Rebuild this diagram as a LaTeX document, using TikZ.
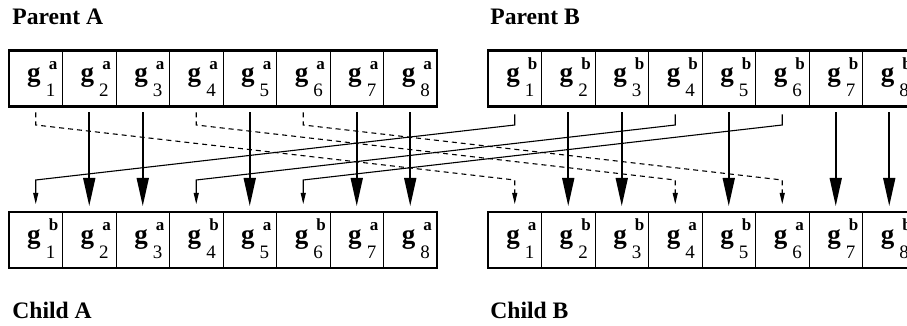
\documentclass[tikz,border=0pt]{standalone}
\usepackage{fontspec}
\setmainfont{Liberation Serif}
\usepackage{tikz}
\usetikzlibrary{arrows.meta,positioning,fit}

% one gene: g with allele (sup) and locus (sub)
\newcommand{\allele}[2]{\hspace*{5.5pt}\smash{\raisebox{-1.75pt}{%
  \fontsize{13.5}{13.5}\selectfont\bfseries g\kern2.5pt%
  \rlap{\kern1.6pt\raisebox{6.3pt}{\fontsize{8.5}{9}\selectfont\bfseries #1}}%
  \raisebox{-7.5pt}{\fontsize{9.5}{10}\selectfont\mdseries #2}}}}

\begin{document}
\begin{tikzpicture}[
  x=0.5pt, y=-0.5pt,
  every node/.style={font=\fontsize{11.5}{13}\selectfont},
  cell/.style={draw, line width=0.5pt, minimum width=26.75pt,
    minimum height=28pt, inner sep=0pt, outer sep=0pt},
  chrom/.style={draw, line width=1.15pt, inner sep=0pt},
  title/.style={anchor=west, inner sep=0pt,
    font=\fontsize{11.8}{13}\selectfont\bfseries},
  keep/.style={line width=0.8pt, -{Triangle[length=14pt,width=6pt]}},
  cross/.style={line width=0.55pt, -{Triangle[length=5.5pt,width=2.5pt]}},
  crossdash/.style={cross, dash pattern=on 2.5pt off 2pt},
]
\useasboundingbox (0,0) rectangle (907,326);

% Titles
\node[title] (lpa) at (12,16.5) {Parent A};
\node[title] (lpb) at (490,16.5) {Parent B};
\node[title] (lca) at (12,310) {Child A};
\node[title] (lcb) at (490,310) {Child B};

% Parent A
\node[cell] (pa1) at (35.75,78.5) {\allele{a}{1}};
\node[cell, right=0pt of pa1] (pa2) {\allele{a}{2}};
\node[cell, right=0pt of pa2] (pa3) {\allele{a}{3}};
\node[cell, right=0pt of pa3] (pa4) {\allele{a}{4}};
\node[cell, right=0pt of pa4] (pa5) {\allele{a}{5}};
\node[cell, right=0pt of pa5] (pa6) {\allele{a}{6}};
\node[cell, right=0pt of pa6] (pa7) {\allele{a}{7}};
\node[cell, right=0pt of pa7] (pa8) {\allele{a}{8}};
\node[chrom, fit=(pa1)(pa8)] (parA) {};

% Parent B
\node[cell] (pb1) at (514.75,78.5) {\allele{b}{1}};
\node[cell, right=0pt of pb1] (pb2) {\allele{b}{2}};
\node[cell, right=0pt of pb2] (pb3) {\allele{b}{3}};
\node[cell, right=0pt of pb3] (pb4) {\allele{b}{4}};
\node[cell, right=0pt of pb4] (pb5) {\allele{b}{5}};
\node[cell, right=0pt of pb5] (pb6) {\allele{b}{6}};
\node[cell, right=0pt of pb6] (pb7) {\allele{b}{7}};
\node[cell, right=0pt of pb7] (pb8) {\allele{b}{8}};
\node[chrom, fit=(pb1)(pb8)] (parB) {};

% Child A
\node[cell] (ca1) at (35.75,240) {\allele{b}{1}};
\node[cell, right=0pt of ca1] (ca2) {\allele{a}{2}};
\node[cell, right=0pt of ca2] (ca3) {\allele{a}{3}};
\node[cell, right=0pt of ca3] (ca4) {\allele{b}{4}};
\node[cell, right=0pt of ca4] (ca5) {\allele{a}{5}};
\node[cell, right=0pt of ca5] (ca6) {\allele{b}{6}};
\node[cell, right=0pt of ca6] (ca7) {\allele{a}{7}};
\node[cell, right=0pt of ca7] (ca8) {\allele{a}{8}};
\node[chrom, fit=(ca1)(ca8)] (chA) {};

% Child B
\node[cell] (cb1) at (514.75,240) {\allele{a}{1}};
\node[cell, right=0pt of cb1] (cb2) {\allele{b}{2}};
\node[cell, right=0pt of cb2] (cb3) {\allele{b}{3}};
\node[cell, right=0pt of cb3] (cb4) {\allele{a}{4}};
\node[cell, right=0pt of cb4] (cb5) {\allele{b}{5}};
\node[cell, right=0pt of cb5] (cb6) {\allele{a}{6}};
\node[cell, right=0pt of cb6] (cb7) {\allele{b}{7}};
\node[cell, right=0pt of cb7] (cb8) {\allele{b}{8}};
\node[chrom, fit=(cb1)(cb8)] (chB) {};

% Levels of the bends
\coordinate (hi) at (0,125);
\coordinate (lo) at (0,180);

% Genes kept in place
\draw[keep] ([yshift=-3pt]pa2.south) -- ([yshift=3pt]ca2.north);
\draw[keep] ([yshift=-3pt]pa3.south) -- ([yshift=3pt]ca3.north);
\draw[keep] ([yshift=-3pt]pa5.south) -- ([yshift=3pt]ca5.north);
\draw[keep] ([yshift=-3pt]pa7.south) -- ([yshift=3pt]ca7.north);
\draw[keep] ([yshift=-3pt]pa8.south) -- ([yshift=3pt]ca8.north);
\draw[keep] ([yshift=-3pt]pb2.south) -- ([yshift=3pt]cb2.north);
\draw[keep] ([yshift=-3pt]pb3.south) -- ([yshift=3pt]cb3.north);
\draw[keep] ([yshift=-3pt]pb5.south) -- ([yshift=3pt]cb5.north);
\draw[keep] ([yshift=-3pt]pb7.south) -- ([yshift=3pt]cb7.north);
\draw[keep] ([yshift=-3pt]pb8.south) -- ([yshift=3pt]cb8.north);

% Genes swapped A -> B
\draw[crossdash] ([yshift=-3pt]pa1.south) -- (pa1 |- hi) -- (cb1 |- lo) -- ([yshift=4pt]cb1.north);
\draw[crossdash] ([yshift=-3pt]pa4.south) -- (pa4 |- hi) -- (cb4 |- lo) -- ([yshift=4pt]cb4.north);
\draw[crossdash] ([yshift=-3pt]pa6.south) -- (pa6 |- hi) -- (cb6 |- lo) -- ([yshift=4pt]cb6.north);

% Genes swapped B -> A
\draw[cross] ([yshift=-4pt]pb1.south) -- (pb1 |- hi) -- (ca1 |- lo) -- ([yshift=4pt]ca1.north);
\draw[cross] ([yshift=-4pt]pb4.south) -- (pb4 |- hi) -- (ca4 |- lo) -- ([yshift=4pt]ca4.north);
\draw[cross] ([yshift=-4pt]pb6.south) -- (pb6 |- hi) -- (ca6 |- lo) -- ([yshift=4pt]ca6.north);
\end{tikzpicture}
\end{document}
